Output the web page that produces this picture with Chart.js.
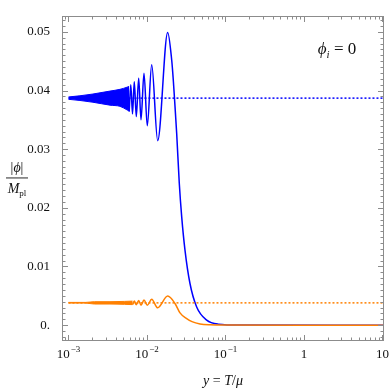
<!DOCTYPE html>
<html>
<head>
<meta charset="utf-8">
<script src="https://cdn.jsdelivr.net/npm/chart.js@4.4.1/dist/chart.umd.min.js"></script>
<style>
  html, body { margin: 0; padding: 0; background: #fff; }
  canvas { display: block; }
</style>
</head>
<body>
<canvas id="chart" width="390" height="390"></canvas>
<script>
// ---- values ----
const xMin = 8.27e-4;
const xMax = 10.45;
const yMin = -0.0027;
const yMax = 0.0527;

const xTickValues = [1e-3, 1e-2, 1e-1, 1, 10];
const xTickBase = ['10', '10', '10', '1', '10'];
const xTickExp = ['\u22123', '\u22122', '\u22121', '', ''];

const yTickValues = [0, 0.01, 0.02, 0.03, 0.04, 0.05];
const yTickLabels = ['0.', '0.01', '0.02', '0.03', '0.04', '0.05'];

// plateau levels (dotted lines)
const bluePlateau = 0.0387;
const orangePlateau = 0.0038;

// blue: dense oscillation region drawn as envelope band
const blueBandX = [0.001, 0.0014, 0.00205, 0.00338, 0.00453, 0.00556, 0.00593];
const blueBandUpper = [0.0389, 0.0391, 0.0394, 0.0399, 0.0402, 0.04056, 0.0407];
const blueBandLower = [0.0385, 0.0383, 0.0380, 0.0375, 0.0373, 0.0367, 0.0365];

// blue: resolved oscillations and the drop to zero
const blueX = [0.00593, 0.00622, 0.00654, 0.00689, 0.00731, 0.00784, 0.00839, 0.00916,
  0.01009, 0.01148, 0.01369, 0.01836, 0.02064, 0.02163, 0.0224, 0.02389, 0.02579,
  0.02767, 0.03048, 0.0353, 0.04295, 0.0576, 0.0809, 0.153, 10.45];
const blueY = [0.0364, 0.0410, 0.0360, 0.0415, 0.03555, 0.0421, 0.0350, 0.04295,
  0.0340, 0.0444, 0.03145, 0.0499, 0.0452, 0.0418, 0.0387, 0.0327, 0.0242,
  0.0185, 0.0128, 0.0071, 0.0031, 0.00085, 0.00017, 0.00002, 0];

// orange: dense small oscillations as band
const orangeBandX = [0.001, 0.00165, 0.00215, 0.00338, 0.00517, 0.00655];
const orangeBandUpper = [0.00388, 0.00388, 0.0040, 0.0040, 0.00405, 0.0041];
const orangeBandLower = [0.00376, 0.00376, 0.0036, 0.0036, 0.00355, 0.0035];

// orange: resolved bumps and decay
const orangeX = [0.00655, 0.00689, 0.00731, 0.00784, 0.00839, 0.00916, 0.01009,
  0.01148, 0.01369, 0.01836, 0.02274, 0.02634, 0.03139, 0.03743, 0.04734,
  0.06345, 0.0985, 10.45];
const orangeY = [0.0035, 0.0041, 0.0035, 0.0042, 0.0034, 0.00427, 0.0034,
  0.0044, 0.00295, 0.00495, 0.0037, 0.0021, 0.0012, 0.0006, 0.0002,
  0.00005, 0.00001, 0];

const BLUE = 'rgb(0, 0, 255)';
const ORANGE = 'rgb(255, 128, 0)';
const FRAME = '#8c8c8c';
const SERIF = '"Liberation Serif", "DejaVu Serif", serif';

const pts = (xs, ys) => xs.map((x, i) => ({ x, y: ys[i] }));
const flat = (level) => [{ x: 0.001, y: level }, { x: xMax, y: level }];

/**
 * Frame, inward ticks, x tick labels and math-style titles
 */
const decorPlugin = {
  id: 'decor',
  afterDatasetsDraw(chart) {
    const { ctx, chartArea: a, scales } = chart;
    const sx = scales.x, sy = scales.y;
    ctx.save();

    // frame
    ctx.strokeStyle = FRAME;
    ctx.lineWidth = 1;
    ctx.strokeRect(a.left + 0.5, a.top + 0.5, a.right - a.left - 1, a.bottom - a.top - 1);

    const tick = (x1, y1, x2, y2) => {
      ctx.beginPath();
      ctx.moveTo(x1, y1);
      ctx.lineTo(x2, y2);
      ctx.stroke();
    };

    // x ticks: decades major, 2..9 minor
    for (let e = -4; e <= 1; e++) {
      for (let m = 1; m <= 9; m++) {
        const v = m * Math.pow(10, e);
        if (v < xMin || v > xMax) continue;
        const px = Math.round(sx.getPixelForValue(v)) + 0.5;
        const len = m === 1 ? 6 : 3.5;
        tick(px, a.bottom, px, a.bottom - len);
        tick(px, a.top, px, a.top + len);
      }
    }

    // y ticks: 0.01 major, 0.001 minor
    for (let k = -2; k <= 52; k++) {
      const v = k / 1000;
      const py = Math.round(sy.getPixelForValue(v)) + 0.5;
      const len = k % 10 === 0 ? 6 : 3.5;
      tick(a.left, py, a.left + len, py);
      tick(a.right, py, a.right - len, py);
    }

    // x tick labels with superscripts
    ctx.fillStyle = '#111';
    ctx.textBaseline = 'alphabetic';
    xTickValues.forEach((v, i) => {
      const px = sx.getPixelForValue(v);
      ctx.font = '13px ' + SERIF;
      const wb = ctx.measureText(xTickBase[i]).width;
      ctx.font = '9px ' + SERIF;
      const we = xTickExp[i] ? ctx.measureText(xTickExp[i]).width + 1 : 0;
      let x0 = px - (wb + we) / 2;
      ctx.font = '13px ' + SERIF;
      ctx.textAlign = 'left';
      ctx.fillText(xTickBase[i], x0, 358);
      if (xTickExp[i]) {
        ctx.font = '9px ' + SERIF;
        ctx.fillText(xTickExp[i], x0 + wb + 1, 352);
      }
    });

    // helper: draw a run of styled segments centred on cx
    const run = (segs, cx, y) => {
      let w = 0;
      segs.forEach(s => { ctx.font = s.f; w += ctx.measureText(s.t).width; });
      let x = cx - w / 2;
      ctx.textAlign = 'left';
      segs.forEach(s => {
        ctx.font = s.f;
        ctx.fillText(s.t, x, y + (s.dy || 0));
        x += ctx.measureText(s.t).width;
      });
    };

    // x axis title
    run([
      { t: 'y', f: 'italic 14px ' + SERIF },
      { t: ' = ', f: '14px ' + SERIF },
      { t: 'T', f: 'italic 14px ' + SERIF },
      { t: '/', f: '14px ' + SERIF },
      { t: '\u03bc', f: 'italic 14px ' + SERIF }
    ], (a.left + a.right) / 2, 385);

    // y axis title as a fraction
    run([
      { t: '|', f: '14px ' + SERIF },
      { t: '\u03d5', f: 'italic 14px ' + SERIF },
      { t: '|', f: '14px ' + SERIF }
    ], 17, 172);
    ctx.fillRect(6, 177.5, 22, 0.9);
    run([
      { t: 'M', f: 'italic 14px ' + SERIF },
      { t: 'pl', f: '9px ' + SERIF, dy: 3 }
    ], 17, 193);

    // annotation
    run([
      { t: '\u03d5', f: 'italic 17px ' + SERIF },
      { t: 'i', f: 'italic 11px ' + SERIF, dy: 4 },
      { t: ' = 0', f: '17px ' + SERIF }
    ], 337, 54);

    ctx.restore();
  }
};

const lineBase = {
  pointRadius: 0,
  borderWidth: 1.5,
  cubicInterpolationMode: 'monotone',
  fill: false
};

new Chart(document.getElementById('chart'), {
  type: 'line',
  data: {
    datasets: [
      // orange on top (lower order drawn last)
      { ...lineBase, data: pts(orangeX, orangeY), borderColor: ORANGE, order: 0 },
      { ...lineBase, data: pts(orangeBandX, orangeBandUpper), borderColor: ORANGE,
        borderWidth: 1, backgroundColor: ORANGE, fill: '+1', order: 0 },
      { ...lineBase, data: pts(orangeBandX, orangeBandLower), borderColor: ORANGE,
        borderWidth: 1, order: 0 },
      { ...lineBase, data: flat(orangePlateau), borderColor: ORANGE, borderDash: [2, 2],
        cubicInterpolationMode: 'default', order: 1 },
      { ...lineBase, data: pts(blueX, blueY), borderColor: BLUE, order: 2 },
      { ...lineBase, data: pts(blueBandX, blueBandUpper), borderColor: BLUE,
        borderWidth: 1, backgroundColor: BLUE, fill: '+1', order: 2 },
      { ...lineBase, data: pts(blueBandX, blueBandLower), borderColor: BLUE,
        borderWidth: 1, order: 2 },
      { ...lineBase, data: flat(bluePlateau), borderColor: BLUE, borderDash: [2, 2],
        cubicInterpolationMode: 'default', order: 3 }
    ]
  },
  options: {
    responsive: false,
    animation: false,
    parsing: true,
    layout: { padding: { left: 0, top: 16, right: 6, bottom: 49 } },
    plugins: {
      legend: { display: false },
      tooltip: { enabled: false }
    },
    scales: {
      x: {
        type: 'logarithmic',
        min: xMin,
        max: xMax,
        display: false
      },
      y: {
        type: 'linear',
        min: yMin,
        max: yMax,
        afterFit: (s) => { s.width = 62; },
        afterBuildTicks: (s) => { s.ticks = yTickValues.map(v => ({ value: v })); },
        grid: { display: false },
        border: { display: false },
        ticks: {
          padding: 4,
          color: '#111',
          font: { family: SERIF, size: 13 },
          callback: (v) => yTickLabels[yTickValues.indexOf(v)]
        }
      }
    }
  },
  plugins: [decorPlugin]
});
</script>
</body>
</html>
